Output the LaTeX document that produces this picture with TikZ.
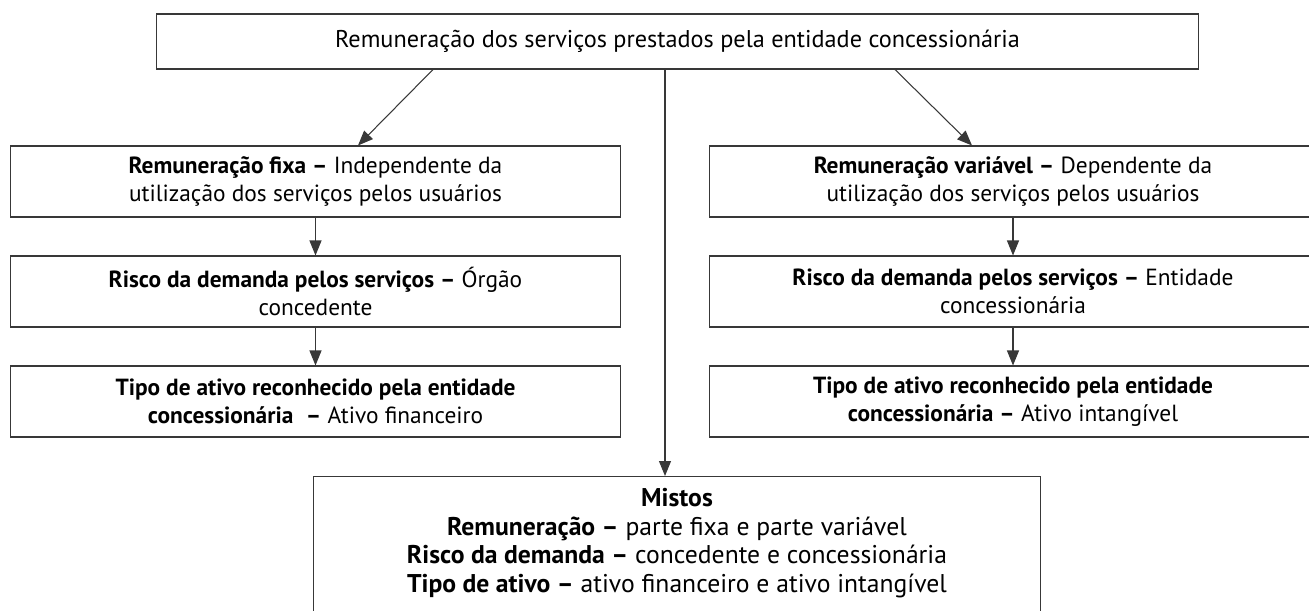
\documentclass[tikz,border=0pt]{standalone}
\usepackage{fontspec}
\setmainfont{PT Sans}
\usetikzlibrary{arrows.meta}
\begin{document}
\begin{tikzpicture}[x=0.02cm,y=-0.02cm,
    bx/.style={draw=black!78,line width=0.6pt,align=center,inner sep=0pt,font=\fontsize{13.3}{16}\selectfont},
    arr/.style={draw=black!78,line width=0.6pt,-{Triangle[length=0.3cm,width=0.24cm]}}]
\useasboundingbox(0,0)rectangle(1309,611);
\clip(0,0)rectangle(1309,611);
\node[bx,minimum width=20.86cm,minimum height=1.1cm,font=\fontsize{13.8}{16}\selectfont](top)at(677.5,41.5){Remuneração dos serviços prestados pela entidade concessionária};
% fixa
\node[bx,minimum width=12.22cm,minimum height=1.42cm](fx1)at(315.5,181.5){\textbf{Remuneração fixa –} Independente da\\utilização dos serviços pelos usuários};
\node[bx,minimum width=12.22cm,minimum height=1.42cm](fx2)at(315.5,291.5){\textbf{Risco da demanda pelos serviços –} Órgão\\concedente};
\node[bx,minimum width=12.22cm,minimum height=1.42cm](fx3)at(315.5,401.5){\textbf{Tipo de ativo reconhecido pela entidade}\\\textbf{concessionária}~ \textbf{–} Ativo financeiro};
% variavel
\node[bx,minimum width=12.16cm,minimum height=1.42cm](vr1)at(1013,181.5){\textbf{Remuneração variável –} Dependente da\\utilização dos serviços pelos usuários};
\node[bx,minimum width=12.16cm,minimum height=1.42cm](vr2)at(1013,291.5){\textbf{Risco da demanda pelos serviços –} Entidade\\concessionária};
\node[bx,minimum width=12.16cm,minimum height=1.42cm](vr3)at(1013,401.5){\textbf{Tipo de ativo reconhecido pela entidade}\\\textbf{concessionária –} Ativo intangível};
% mistos
\node[bx,minimum width=14.56cm,minimum height=3.2cm,anchor=north](mx)at(677,476){};
\node[align=center,inner sep=0pt,font=\fontsize{14.6}{16.2}\selectfont](mxt)at(677,543){\textbf{Mistos}\\\textbf{Remuneração –} parte fixa e parte variável\\\textbf{Risco da demanda –} concedente e concessionária\\\textbf{Tipo de ativo –} ativo financeiro e ativo intangível};
\draw[arr]([shift={(-244.5,0)}]top.south)--([shift={(42.5,0)}]fx1.north);
\draw[arr]([shift={(217.5,0)}]top.south)--([shift={(-41,0)}]vr1.north);
\draw[arr]([shift={(-12.5,0)}]top.south)--([shift={(-12,0)}]mx.north);
\draw[arr](fx1)--(fx2);
\draw[arr](fx2)--(fx3);
\draw[arr](vr1)--(vr2);
\draw[arr](vr2)--(vr3);
\end{tikzpicture}
\end{document}
